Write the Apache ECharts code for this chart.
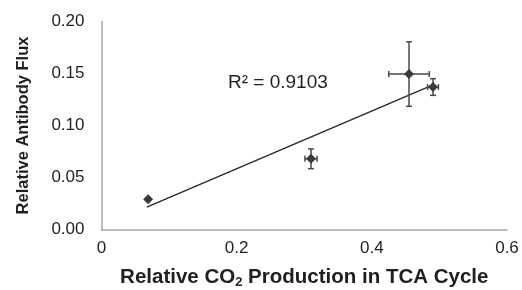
<!DOCTYPE html>
<html lang="en">
<head>
  <meta charset="UTF-8">
  <title>Antibody flux vs CO2 production</title>
  <script src="https://cdn.jsdelivr.net/npm/echarts@6/dist/echarts.min.js"></script>
</head>
<body style="margin:0">
<div id="main" style="width:522px;height:290px;"></div>
<script>
  // data
  var co2 = [0.069, 0.310, 0.455, 0.4905];
  var flux = [0.029, 0.068, 0.1495, 0.137];
  var co2Err = [0, 0.009, 0.030, 0.008];
  var fluxErr = [0, 0.0095, 0.031, 0.008];
  // linear trendline ends
  var trendX = [0.067, 0.4905];
  var trendY = [0.0216, 0.139];
  var yTicks = ['0.00', '0.05', '0.10', '0.15', '0.20'];

  var points = co2.map(function (x, i) { return [x, flux[i], co2Err[i], fluxErr[i]]; });
  var trend = trendX.map(function (x, i) { return [x, trendY[i]]; });

  var myChart = echarts.init(document.getElementById('main'));

  function renderErr(params, api) {
    var x = api.value(0), y = api.value(1), ex = api.value(2), ey = api.value(3);
    var style = { stroke: '#4a4a4a', lineWidth: 1.5 };
    var kids = [];
    var cap = 3;
    if (ey > 0) {
      var t = api.coord([x, y + ey]), b = api.coord([x, y - ey]);
      kids.push({ type: 'line', shape: { x1: t[0], y1: t[1], x2: b[0], y2: b[1] }, style: style });
      kids.push({ type: 'line', shape: { x1: t[0] - cap, y1: t[1], x2: t[0] + cap, y2: t[1] }, style: style });
      kids.push({ type: 'line', shape: { x1: b[0] - cap, y1: b[1], x2: b[0] + cap, y2: b[1] }, style: style });
    }
    if (ex > 0) {
      var l = api.coord([x - ex, y]), r = api.coord([x + ex, y]);
      kids.push({ type: 'line', shape: { x1: l[0], y1: l[1], x2: r[0], y2: r[1] }, style: style });
      kids.push({ type: 'line', shape: { x1: l[0], y1: l[1] - cap, x2: l[0], y2: l[1] + cap }, style: style });
      kids.push({ type: 'line', shape: { x1: r[0], y1: r[1] - cap, x2: r[0], y2: r[1] + cap }, style: style });
    }
    return { type: 'group', children: kids };
  }

  myChart.setOption({
    backgroundColor: '#ffffff',
    animation: false,
    textStyle: { fontFamily: 'Liberation Sans, Arial, sans-serif' },
    grid: { left: 101.5, right: 15, top: 21.5, bottom: 60.5, outerBoundsMode: 'none' },
    xAxis: {
      type: 'value', min: 0, max: 0.6, interval: 0.2,
      axisLine: { show: true, lineStyle: { color: '#a6a6a6', width: 1.5 } },
      axisTick: { show: false },
      splitLine: { show: false },
      axisLabel: { fontSize: 17, color: '#1f1f1f', margin: 10,
        formatter: function (v) { return v === 0 ? '0' : v.toFixed(1); } },
      name: 'Relative CO{sub|2} Production in TCA Cycle',
      nameLocation: 'middle', nameGap: 36,
      nameTextStyle: { fontSize: 20.5, fontWeight: 'bold', color: '#1f1f1f',
        rich: { sub: { fontSize: 13, fontWeight: 'bold', color: '#1f1f1f', padding: [10, 0, 0, 0] } } }
    },
    yAxis: {
      type: 'value', min: 0, max: 0.2, interval: 0.05,
      axisLine: { show: true, lineStyle: { color: '#a6a6a6', width: 1.5 } },
      axisTick: { show: false },
      splitLine: { show: false },
      axisLabel: { fontSize: 17, color: '#1f1f1f', margin: 17,
        formatter: function (v) { return yTicks[Math.round(v / 0.05)]; } },
      name: 'Relative Antibody Flux',
      nameLocation: 'middle', nameGap: 70,
      nameTextStyle: { fontSize: 16.5, fontWeight: 'bold', color: '#1f1f1f' }
    },
    series: [
      {
        type: 'line', data: trend, symbol: 'none',
        lineStyle: { color: '#262626', width: 1.3 }, z: 2
      },
      {
        type: 'custom', data: points, renderItem: renderErr, z: 3,
        encode: { x: 0, y: 1 }
      },
      {
        type: 'scatter', data: points, symbol: 'diamond', symbolSize: 10,
        itemStyle: { color: '#3a3a3a', opacity: 1 }, z: 4
      }
    ],
    graphic: [{
      type: 'text', left: 228, top: 73,
      style: { text: 'R² = 0.9103', fontSize: 19, fill: '#1f1f1f', fontFamily: 'Liberation Sans, Arial, sans-serif' }
    }]
  });
</script>
</body>
</html>
